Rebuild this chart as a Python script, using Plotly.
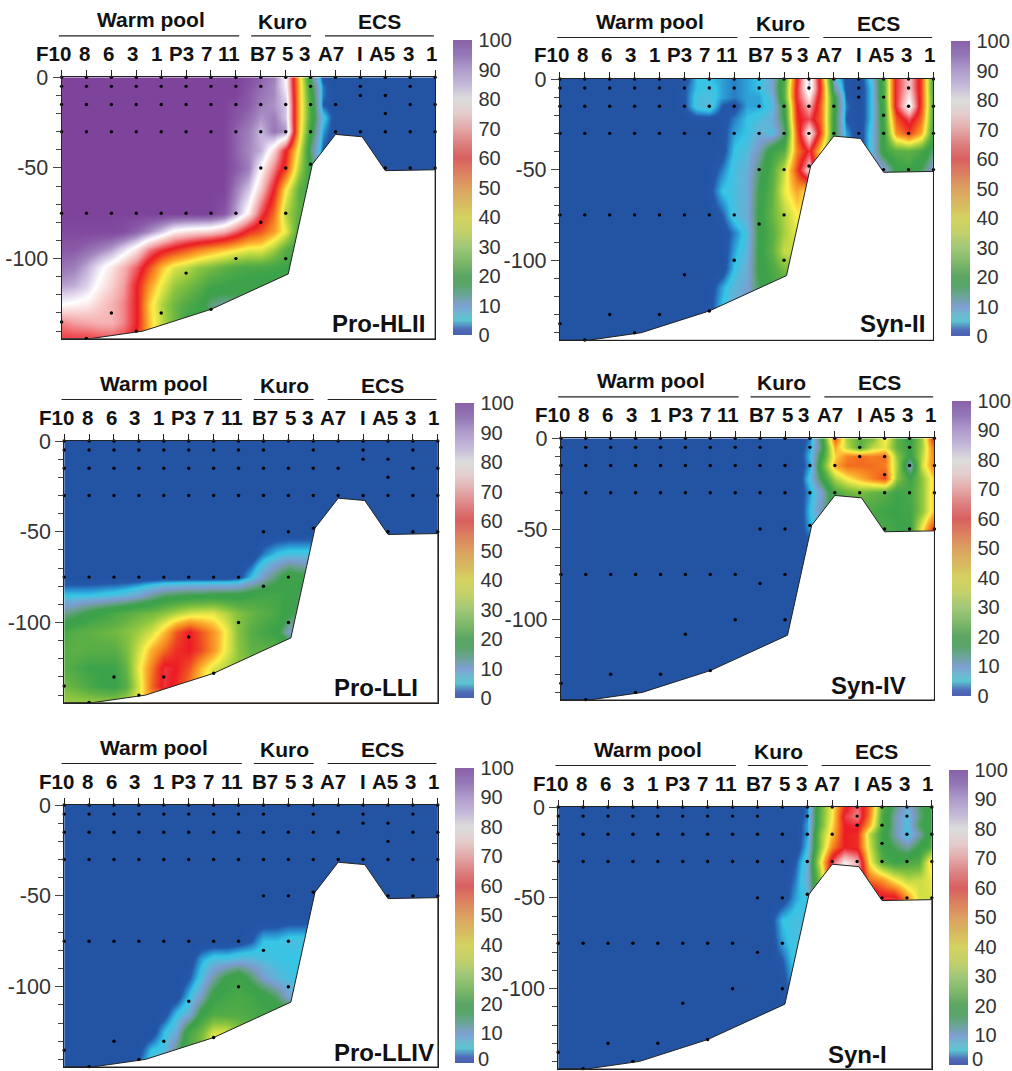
import plotly.graph_objects as go

W, H = 1012, 1071
station_labels = ["F10","8","6","3","1","P3","7","11","B7","5","3","A7","I","A5","3","1"]
stations = list(range(16))
grid_x = [i * 0.5 for i in range(31)]
grid_depth = [0,5,10,15,22,30,40,50,62,75,85,95,105,115,125,135,145]

seabed_x = [0, 1.13, 3.27, 6, 9.1, 10.07, 11, 12.07, 13, 15, 15, 0]
seabed_y = [-144.2, -144.2, -140, -128, -108.5, -48, -31.5, -32.8, -51.5, -51, -144.2, -144.2]

sample_rows = [
    (0, list(range(16))),
    (5, [0,1,2,3,4,5,6,7,8,10,12,14]),
    (10, [12,13]),
    (15, [0,1,2,3,4,5,6,7,8,9,10,11,14,15]),
    (20, [13]),
    (30, list(range(16))),
    (48, [10]),
    (50, [8,9,13,14,15]),
    (75, [0,1,2,3,4,5,6,7,9]),
    (80, [8]),
    (100, [7,9]),
    (108, [5]),
    (128, [6]),
    (130, [2,4]),
    (135, [0]),
    (140, [3]),
    (144, [1]),
]

pro_hlii = [
    [99]*15+[97,94,91,80,44,15,1,0],
    [99]*15+[96,93,90,81,45,18,3,0],
    [99]*15+[95,92,90,83,45,20,3,0],
    [99]*14+[97,95,91,89,85,45,22,2,0],
    [99]*14+[96,93,89,91,85,45,22,6,0],
    [99]*14+[94,91,86,92,89,44,19,4,0],
    [99]*14+[94,90,87,76,60,38,14,2,0],
    [99]*14+[95,91,80,68,56,33,18,5,0],
    [99]*14+[91,85,74,60,40,25,20,20],
    [99]*13+[96,88,78,64,52,33,25,25],
    [98,98,98,98,98,97,94,90,85,79,77,76,75,72,66,58,54,47,38,22,20],
    [95,95,93,91,88,83,77,68,62,58,54,50,47,44,41,38,38,32,24,20,20],
    [92,91,87,82,77,72,65,55,44,37,34,30,28,25,23,22,22,21,20,20,20],
    [88,87,84,79,75,70,60,48,38,31,28,25,21,20,19,18,18,18,18,18],
    [80,79,78,75,72,68,60,43,33,27,23,20,14,12,14,15,15],
    [68,70,71,72,72,68,60,44,34,27,20,20],
    [62,62,62,63,64,63,58,45,30],
]
syn_ii = [
    [0]*10+[1,5,5,4,3,4,5,9,22,60,85,54,8,1,0,6,25,62,74,56,18],
    [0]*10+[2,5,6,4,3,4,5,9,24,62,85,56,12,1,0,5,24,62,74,56,18],
    [0]*10+[2,6,6,4,3,4,4,7,24,62,78,54,18,2,0,5,24,62,78,56,20],
    [0]*10+[2,6,7,2,1,4,4,6,19,60,72,52,19,3,0,5,22,62,82,56,20],
    [0]*10+[.5,1,1,1,3,5,6,8,17,58,64,52,18,2,0,5,22,54,64,52,20],
    [0]*13+[1,4,5,8,6,14,54,80,54,18,4,0,6,20,48,56,46,19],
    [0]*12+[.5,1,5,6.5,11,20,24,50,62,40,18,4,0,6,20,24,25,22,14],
    [0]*12+[.5,3,6,7.5,15,23,35,56,76,40,18,4,0,6,8,18,20,16,8],
    [0]*12+[1,5,6,8,17,25,38,46,40,40],
    [0]*12+[.5,2,6,8,18,26,33,40,40],
    [0]*13+[.5,3,6,18,24,32,38,38],
    [0]*13+[.5,4,7,18,25,35,35],
    [0]*13+[.5,5,8,18,22,28,28],
    [0]*12+[.5,4,7,9,16,20,22,22],
    [0]*12+[1,5,8,10,12,12],
    [0],
    [0],
]
pro_lli = [
    [0],[0],[0],[0],[0],[0],[0],[0],
    [0]*15+[0,3,5,6,6,6],
    [0]*14+[1,5,10,15,20,18,18],
    [5,5,5,5.5,6,7,9,12,15,16,17,17,18,18,18,20,21,21,20,15,15],
    [13,15,18,20,22,24,26,27,30,33,36,37,37,33,29,26,24,22,18,14,14],
    [22,24,25,26,27,29,32,36,44,54,60,54,48,39,29,24,21,19,10,10],
    [24,25,24,24,24,28,36,45,52,58,60,55,48,38,30,25,25],
    [24,22,20,20,20,26,39,50,62,60,54,44,37,33,30],
    [27,25,22,20,19,24,37,52,62,58,50,40,34],
    [32,32,32,32,32,34,40,45],
]
syn_iv = [
    [0]*20+[3,18,54,32,25,28,40,25,18,32,62],
    [0]*20+[4,16,46,34,24,34,38,25,20,32,54],
    [0]*20+[5,20,42,50,52,50,52,30,18,34,52],
    [0]*20+[4,24,46,52,52,52,50,32,8,36,52],
    [0]*20+[6,18,33,40,45,50,55,30,20,30,44],
    [0]*20+[4,10,22,26,28,26,24,20,22,30,45],
    [0]*20+[5,12,20,22,22,22,20,20,21,30,45],
    [0]*20+[4,5,20,22,22,22,22,20,20,40,60],
    [0],[0],[0],[0],[0],[0],[0],[0],[0],
]
pro_lliv = [
    [0],[0],[0],[0],[0],[0],[0],[0],
    [0]*18+[.5,.5,1],
    [0]*14+[.5,2,5,5,6,6,6],
    [0]*10+[.5,4,6,6,7,7,6,5.5,5,5,5],
    [0]*10+[2,6,12,18,21,15,10,7,6,5,5],
    [0]*9+[.5,5,10,19,21,22,21,19,15,9,9],
    [0]*8+[1,5,8,19,23,23,23,22,21,21],
    [0]*7+[.2,5,8,22,27,36,36,30,25,25],
    [0]*6+[1,5,6,14,24,30,42,42,42],
    [0]*6+[3,7,10,18,25,32,40,40],
]
syn_i = [
    [0]*19+[0,3,25,40,58,66,52,24,14,8,15,22],
    [0]*20+[3,26,40,62,68,50,22,12,6,14,21],
    [0]*20+[4,26,42,60,62,46,22,12,6,16,21],
    [0]*20+[4,30,44,60,58,34,20,12,5,12,22],
    [0]*20+[5,30,50,60,58,36,20,16,12,18,24],
    [0]*19+[2,7,38,65,78,72,40,24,20,22,24,45],
    [0]*18+[0,3,8,30,65,78,72,52,48,40,34,35,38],
    [0]*17+[0,.5,4,6,30,65,78,70,70,62,62,48,36],
    [0]*17+[1,5,6,6],
    [0]*17+[.5,4,6,6],
    [0]*17+[.3,2,6,6],
    [0]*18+[1,5,5],
    [0]*18+[1,1],
    [0],[0],[0],[0],
]

panel_names = ["Pro-HLII","Syn-II","Pro-LLI","Syn-IV","Pro-LLIV","Syn-I"]
panel_values = [pro_hlii, syn_ii, pro_lli, syn_iv, pro_lliv, syn_i]

# ---- styling / layout (pixels) ----
frames = [  # x0, x1, y0, ybottom
    (61.7,436,77.3,338.7),(561,935.3,79,340.3),(64.3,438.7,441,702.7),
    (562,936.3,438.3,700),(64.3,438.7,805,1067),(559.3,933.7,807,1069)]
bars = [(454,40),(953.3,41),(456.3,403.3),(954.3,400.7),(456.3,767.7),(951.3,769.7)]
name_pos = [(379,323),(894,323),(377,687),(870,685),(385,1052),(858.7,1054)]
label_shift = [-8,-2,-3,-4,-5,-5,-5,-7,2,2,-6,-5,0,-3,-2,-4]
groups = [("Warm pool",90,-2.7,178,-58),("Kuro",221,190,250,-56),("ECS",319,264,373,-56)]

plot_scale = [[0,"#2353a3"],[.02,"#2458a8"],[.035,"#2a90d0"],[.05,"#35c6e6"],[.07,"#5fb6d8"],
    [.10,"#7d9bcf"],[.13,"#6aa090"],[.17,"#3fa04c"],[.20,"#3da34a"],[.25,"#5fb045"],
    [.30,"#8dc63f"],[.35,"#c9dc45"],[.40,"#fff04a"],[.45,"#fcb030"],[.50,"#f58220"],
    [.55,"#f04a24"],[.60,"#ec1c24"],[.65,"#ef5a5f"],[.70,"#f4a0a2"],[.75,"#f9d0d0"],
    [.80,"#ffffff"],[.83,"#e6dcf0"],[.86,"#cbbbde"],[.90,"#a488c0"],[.95,"#8a5aa8"],[1,"#7b3f98"]]
bar_scale = [[0,"#4a5fb0"],[.02,"#4f6cb8"],[.05,"#5cc4d0"],[.07,"#6cbad2"],[.10,"#7f9fd2"],
    [.13,"#6ea4a0"],[.17,"#5aa568"],[.20,"#5ba564"],[.25,"#7fb86a"],[.30,"#a0c878"],
    [.35,"#c4d06a"],[.40,"#d4d260"],[.45,"#d8b860"],[.50,"#dca060"],[.55,"#dc8060"],
    [.60,"#d8605f"],[.65,"#dc8080"],[.70,"#e4a8a8"],[.75,"#e4cccc"],[.80,"#dcdcdc"],
    [.85,"#c4b8d8"],[.90,"#b09ccc"],[.95,"#9478b8"],[1,"#8a60a8"]]

FONT = "Liberation Sans"
MT = 25
BAR_LEN = 295
def px(x): return x / W
def py(y): return 1 - (y - MT) / (H - MT)
def pad(r): return list(r) + [r[-1]] * (31 - len(r))

sample_x = [s for d, ss in sample_rows for s in ss]
sample_y = [-d for d, ss in sample_rows for s in ss]

fig = go.Figure()
annotations, shapes = [], []
layout = {}
for i, (vals, name) in enumerate(zip(panel_values, panel_names)):
    n = "" if i == 0 else str(i + 1)
    xa, ya = "x" + n, "y" + n
    x0, x1, y0, yb = frames[i]
    rows = [pad(r) for r in vals]
    assert all(len(r) == 31 for r in rows)
    fig.add_trace(go.Heatmap(x=grid_x, y=[-d for d in grid_depth][::-1], z=rows[::-1],
        zmin=0, zmax=100, zsmooth="best", colorscale=plot_scale, showscale=False,
        xaxis=xa, yaxis=ya, hoverinfo="skip"))
    fig.add_trace(go.Scatter(x=seabed_x, y=seabed_y, mode="lines", fill="toself",
        fillcolor="white", line=dict(color="#222", width=1), xaxis=xa, yaxis=ya,
        showlegend=False, hoverinfo="skip"))
    fig.add_trace(go.Scatter(x=sample_x, y=sample_y, mode="markers", cliponaxis=False,
        marker=dict(color="black", size=3.4), xaxis=xa, yaxis=ya, showlegend=False,
        hoverinfo="skip"))
    bx, by = bars[i]
    low_bar = by + BAR_LEN > 1050  # the bottom row: plotly drops its "0" label at the page edge
    fig.add_trace(go.Scatter(x=[None], y=[None], mode="markers", xaxis=xa, yaxis=ya,
        showlegend=False, hoverinfo="skip",
        marker=dict(color=[0, 100], cmin=0, cmax=100, colorscale=bar_scale, showscale=True,
            colorbar=dict(x=px(bx), xanchor="left", xpad=0, y=py(by), yanchor="top", ypad=0,
                lenmode="pixels", len=BAR_LEN, thicknessmode="pixels", thickness=18.5,
                outlinewidth=0, ticks="outside", ticklen=3, tickcolor="rgba(0,0,0,0)",
                tickvals=list(range(10 if low_bar else 0, 101, 10)),
                tickfont=dict(family=FONT, size=20, color="#333")))))
    if low_bar:
        annotations.append(dict(x=px(bx + 21), y=py(H - 12), xref="paper", yref="paper",
            text="0", showarrow=False, xanchor="left", yanchor="middle",
            font=dict(family=FONT, size=20, color="#333")))
    layout["xaxis" + n] = dict(domain=[px(x0), px(x1)], range=[0, 15], side="top", anchor=ya,
        tickvals=stations, showticklabels=False, ticks="outside", ticklen=6, tickcolor="#222",
        showgrid=False, zeroline=False, showline=True, linecolor="#222", linewidth=1, mirror=True)
    layout["yaxis" + n] = dict(domain=[py(yb), py(y0)], range=[-144.2, 0], anchor=xa,
        tickvals=[0, -50, -100], ticktext=["0", "-50", "-100"], ticks="outside", ticklen=8,
        tickcolor="#444", tickfont=dict(family=FONT, size=21.5, color="#333"),
        minor=dict(tickvals=[-d for d in range(10, 150, 10)], ticks="outside", ticklen=5, tickcolor="#444"),
        showgrid=False, zeroline=False, showline=True, linecolor="#222", linewidth=1, mirror=True)
    step = (x1 - x0) / 15
    for s, lab, sh in zip(stations, station_labels, label_shift):
        annotations.append(dict(x=px(x0 + s * step + sh), y=py(y0 - 24), xref="paper", yref="paper",
            text="<b>%s</b>" % lab, showarrow=False, xanchor="center", yanchor="middle",
            font=dict(family=FONT, size=20.5, color="#111")))
    for g, cx, a, b, dy in groups:
        annotations.append(dict(x=px(x0 + cx), y=py(y0 + dy), xref="paper", yref="paper",
            text="<b>%s</b>" % g, showarrow=False, xanchor="center", yanchor="middle",
            font=dict(family=FONT, size=21, color="#111")))
        shapes.append(dict(type="line", xref="paper", yref="paper", x0=px(x0 + a), x1=px(x0 + b),
            y0=py(y0 - 41.5), y1=py(y0 - 41.5), line=dict(color="#222", width=1.2)))
    nx, ny = name_pos[i]
    annotations.append(dict(x=px(nx), y=py(ny), xref="paper", yref="paper",
        text="<b>%s</b>" % name, showarrow=False, xanchor="center", yanchor="middle",
        font=dict(family=FONT, size=24, color="#111")))

fig.update_layout(width=W, height=H, margin=dict(l=0, r=0, t=MT, b=0), autosize=False,
    paper_bgcolor="white", plot_bgcolor="white", showlegend=False,
    annotations=annotations, shapes=shapes, **layout)
fig.write_html("out.html", config=dict(displayModeBar=False),
               post_script="document.body.style.margin='0';")
